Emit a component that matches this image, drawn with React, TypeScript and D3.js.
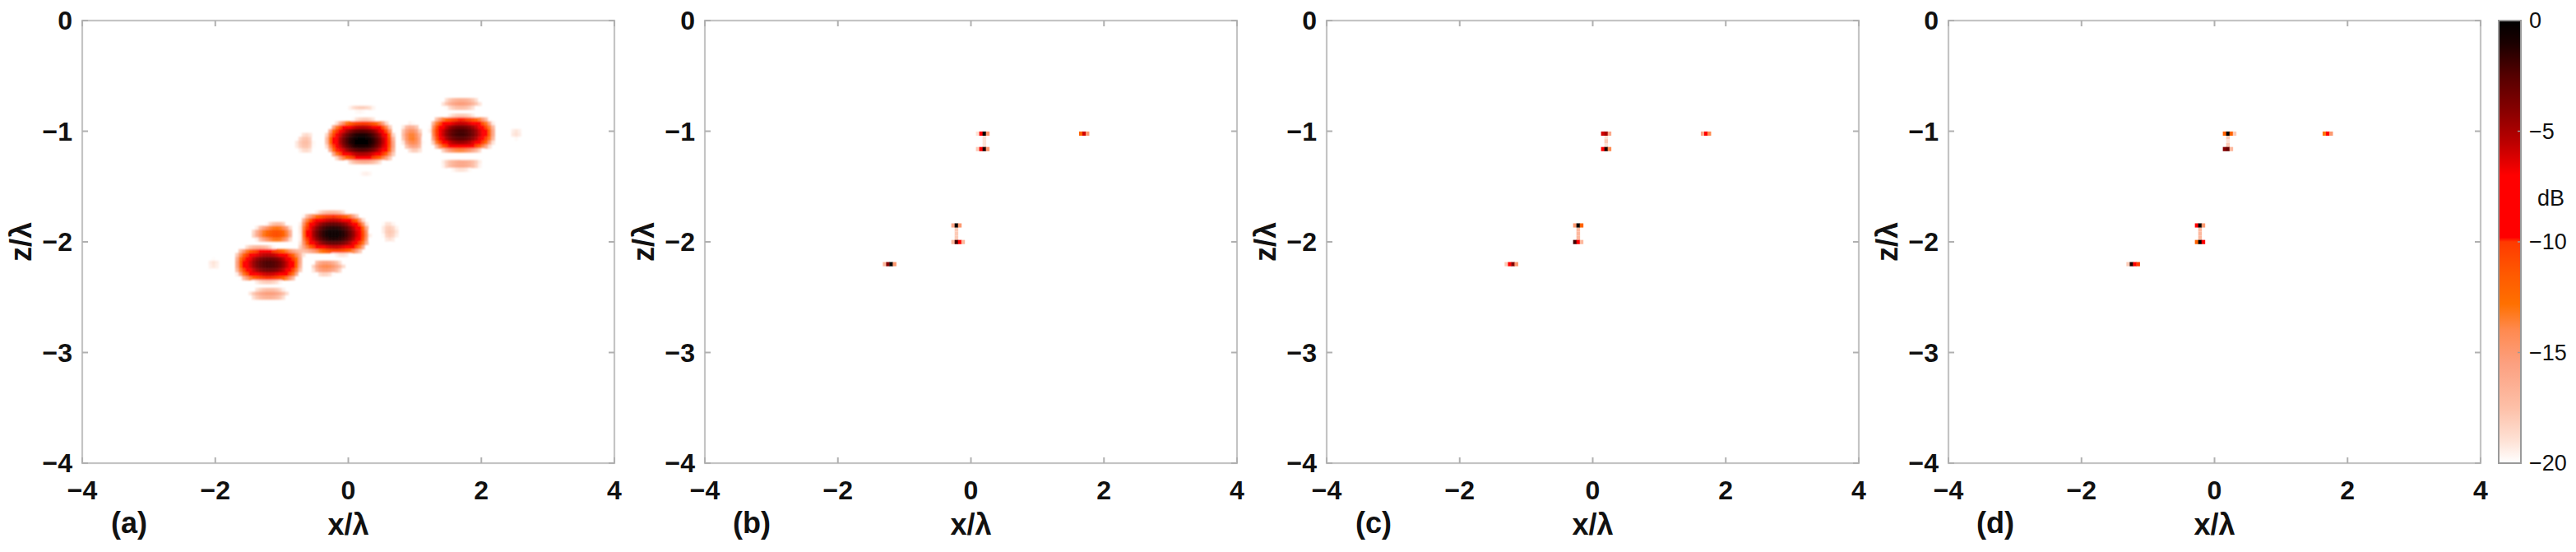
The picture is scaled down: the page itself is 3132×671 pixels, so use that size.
import React from 'react';
import * as d3 from 'd3';

// ---------- data ----------
const panelLabels = ['(a)', '(b)', '(c)', '(d)'];
const xTicks = [-4, -2, 0, 2, 4];
const zTicks = [0, -1, -2, -3, -4];
const cbTicks = [0, -5, -10, -15, -20];

// scatterer positions (in wavelengths)
const targetX = [0.2, 0.2, 1.7, -0.22, -0.22, -1.2];
const targetZ = [-1.02, -1.16, -1.02, -1.85, -2.0, -2.2];
// relative amplitudes used for the conventional image (a)
const ampA = [1.0, 1.0, 1.25, 1.0, 1.0, 1.25];
// resolution cell widths of the conventional image (a)
const psfWidthX = 0.6;
const psfWidthZ = 0.19;

// sparse reconstructions: dB values of the 5 cells around each target (offsets -2..2)
const rowsB = [
  [-19, -8, 0, -15, -25],
  [-18, -7, -1, -15, -25],
  [-25, -12, -6, -15, -25],
  [-25, -16, 0, -15, -25],
  [-25, -17, -2, -8, -17],
  [-17, -4, 0, -15, -25],
];
const rowsC = [
  [-25, -6, -5, -16, -25],
  [-25, -7, -1, -14, -25],
  [-25, -16, -7, -14, -25],
  [-25, -15, 0, -12, -25],
  [-25, -2, -8, -17, -25],
  [-18, -8, -4, -15, -25],
];
const rowsD = [
  [-25, -12, 0, -12, -18],
  [-25, -4, -3, -17, -25],
  [-25, -13, -8, -15, -25],
  [-25, -8, 0, -15, -25],
  [-25, -12, 0, -8, -25],
  [-18, -1, -7, -10, -25],
];
const pairs = [[0, 1], [3, 4]];
const bridgesB = [[-19, -19, -19], [-18, -18, -18]];
const bridgesC = [[-19, -18, -19], [-17, -17, -17]];
const bridgesD = [[-18, -19, -18], [-17, -17, -17]];

// colour map (dB -> colour)
const cmapDb = [0, -1, -2.5, -4, -5.5, -7, -9.8, -10, -11.5, -12.8, -14, -15.5, -17.5, -19, -20];
const cmapColors = [
  '#000000', '#1a0000', '#550000', '#850000', '#bb0000', '#ff0000', '#ff0000', '#ff3a00',
  '#ff5a00', '#ff7000', '#ff8a50', '#fca080', '#fdc0a8', '#fee2d6', '#ffffff',
];

// ---------- layout ----------
const W = 3132;
const H = 671;
const panelLeft = [100, 857, 1613, 2369];
const plotTop = 25;
const plotW = 647;
const plotH = 538;
const cbX = 3038;
const cbW = 27;
const dx = 0.05;
const dz = 0.035;

const color = d3
  .scaleLinear<string>()
  .domain(cmapDb)
  .range(cmapColors)
  .interpolate(d3.interpolateRgb)
  .clamp(true);

function sinc(u: number) {
  if (Math.abs(u) < 1e-9) return 1;
  return Math.sin(Math.PI * u) / (Math.PI * u);
}

type Cell = { x: number; z: number; v: number };

function conventionalCells(): Cell[] {
  const vals: Cell[] = [];
  let maxA = 0;
  const nx = Math.round(8 / dx);
  const nz = Math.round(4 / dz);
  for (let i = 0; i < nx; i++) {
    const x = -4 + (i + 0.5) * dx;
    for (let j = 0; j < nz; j++) {
      const z = -(j + 0.5) * dz;
      let s = 0;
      for (let t = 0; t < targetX.length; t++) {
        const u = (x - targetX[t]) / psfWidthX;
        const w = (z - targetZ[t]) / psfWidthZ;
        s += ampA[t] * sinc(u) * Math.exp(-(u / 2.2) * (u / 2.2)) * sinc(w);
      }
      const a = Math.abs(s);
      if (a > maxA) maxA = a;
      vals.push({ x, z, v: a });
    }
  }
  const out: Cell[] = [];
  for (const c of vals) {
    const db = 20 * Math.log10(c.v / maxA + 1e-12);
    if (db > -20.5) out.push({ x: c.x, z: c.z, v: db });
  }
  return out;
}

function sparseCells(rows: number[][], bridges: number[][]): Cell[] {
  const out: Cell[] = [];
  pairs.forEach((p, pi) => {
    const b = bridges[pi];
    const z1 = targetZ[p[0]];
    const z2 = targetZ[p[1]];
    b.forEach((v, j) => {
      const z = z1 + ((z2 - z1) * (j + 1)) / (b.length + 1);
      if (v > -20) out.push({ x: targetX[p[0]], z, v });
    });
  });
  rows.forEach((r, t) => {
    r.forEach((v, k) => {
      if (v > -20) out.push({ x: targetX[t] + (k - 2) * dx, z: targetZ[t], v });
    });
  });
  return out;
}

const panelCells = [
  conventionalCells(),
  sparseCells(rowsB, bridgesB),
  sparseCells(rowsC, bridgesC),
  sparseCells(rowsD, bridgesD),
];

const tickFont = 'Liberation Sans, Arial, Helvetica, sans-serif';

function Panel({ idx }: { idx: number }) {
  const left = panelLeft[idx];
  const xs = d3.scaleLinear().domain([-4, 4]).range([left, left + plotW]);
  const zs = d3.scaleLinear().domain([0, -4]).range([plotTop, plotTop + plotH]);
  const cw = xs(dx) - xs(0);
  const ch = zs(-dz) - zs(0);
  const cells = panelCells[idx];
  const tl = 7;
  return (
    <g>
      <clipPath id={`clip${idx}`}>
        <rect x={left} y={plotTop} width={plotW} height={plotH} />
      </clipPath>
      <g clipPath={`url(#clip${idx})`}>
        <g filter={idx === 0 ? 'url(#blurA)' : 'url(#blurB)'}>
          {cells.map((c, i) => (
            <rect
              key={i}
              x={xs(c.x) - cw / 2}
              y={zs(c.z) - ch / 2}
              width={cw + 0.4}
              height={ch + 0.4}
              fill={color(c.v)}
            />
          ))}
        </g>
      </g>
      {/* box */}
      <rect x={left} y={plotTop} width={plotW} height={plotH} fill="none" stroke="#c4c4c4" strokeWidth={2.2} />
      {/* ticks */}
      {xTicks.map((t) => (
        <g key={`xt${t}`}>
          <line x1={xs(t)} x2={xs(t)} y1={plotTop + plotH} y2={plotTop + plotH - tl} stroke="#b0b0b0" strokeWidth={2} />
          <line x1={xs(t)} x2={xs(t)} y1={plotTop} y2={plotTop + tl} stroke="#b0b0b0" strokeWidth={2} />
          <text
            x={xs(t)}
            y={plotTop + plotH + 44}
            textAnchor="middle"
            fontFamily={tickFont}
            fontWeight="bold"
            fontSize={32}
            fill="#111"
          >
            {t < 0 ? `\u2212${Math.abs(t)}` : `${t}`}
          </text>
        </g>
      ))}
      {zTicks.map((t) => (
        <g key={`zt${t}`}>
          <line x1={left} x2={left + tl} y1={zs(t)} y2={zs(t)} stroke="#b0b0b0" strokeWidth={2} />
          <line x1={left + plotW} x2={left + plotW - tl} y1={zs(t)} y2={zs(t)} stroke="#b0b0b0" strokeWidth={2} />
          <text
            x={left - 12}
            y={zs(t)}
            textAnchor="end"
            dominantBaseline="central"
            fontFamily={tickFont}
            fontWeight="bold"
            fontSize={32}
            fill="#111"
          >
            {t < 0 ? `\u2212${Math.abs(t)}` : `${t}`}
          </text>
        </g>
      ))}
      {/* axis titles */}
      <text
        x={left + plotW / 2}
        y={650}
        textAnchor="middle"
        fontFamily={tickFont}
        fontWeight="bold"
        fontSize={36}
        fill="#111"
      >
        x/λ
      </text>
      <text
        transform={`translate(${left - 62},${plotTop + plotH / 2}) rotate(-90)`}
        textAnchor="middle"
        fontFamily={tickFont}
        fontWeight="bold"
        fontSize={36}
        fill="#111"
      >
        z/λ
      </text>
      <text
        x={left + 57}
        y={648}
        textAnchor="middle"
        fontFamily={tickFont}
        fontWeight="bold"
        fontSize={36}
        fill="#111"
      >
        {panelLabels[idx]}
      </text>
    </g>
  );
}

function ColorBar() {
  const ys = d3.scaleLinear().domain([0, -20]).range([plotTop, plotTop + plotH]);
  return (
    <g>
      <defs>
        <linearGradient id="cbGrad" x1="0" y1="0" x2="0" y2="1">
          {cmapDb.map((d, i) => (
            <stop key={i} offset={`${(-d / 20) * 100}%`} stopColor={cmapColors[i]} />
          ))}
        </linearGradient>
      </defs>
      <rect x={cbX} y={plotTop} width={cbW} height={plotH} fill="url(#cbGrad)" stroke="#9a9a9a" strokeWidth={2} />
      {cbTicks.map((t) => (
        <g key={t}>
          <line x1={cbX + cbW} x2={cbX + cbW - 4} y1={ys(t)} y2={ys(t)} stroke="#9a9a9a" strokeWidth={1.5} />
          <text
            x={cbX + 37}
            y={ys(t)}
            dominantBaseline="central"
            fontFamily={tickFont}
            fontSize={27}
            fill="#111"
          >
            {t < 0 ? `\u2212${Math.abs(t)}` : `${t}`}
          </text>
        </g>
      ))}
      <text x={cbX + 47} y={250} fontFamily={tickFont} fontSize={27} fill="#111">
        dB
      </text>
    </g>
  );
}

export default function App() {
  return (
    <svg
      width={W}
      height={H}
      viewBox={`0 0 ${W} ${H}`}
      style={{ position: 'absolute', left: 0, top: 0, background: '#fff' }}
    >
      <defs>
        <filter id="blurA" x="-5%" y="-5%" width="110%" height="110%">
          <feGaussianBlur stdDeviation="1.3" />
        </filter>
        <filter id="blurB" x="-50%" y="-50%" width="200%" height="200%">
          <feGaussianBlur stdDeviation="0.7" />
        </filter>
      </defs>
      <rect x={0} y={0} width={W} height={H} fill="#fff" />
      {[0, 1, 2, 3].map((i) => (
        <Panel key={i} idx={i} />
      ))}
      <ColorBar />
    </svg>
  );
}
